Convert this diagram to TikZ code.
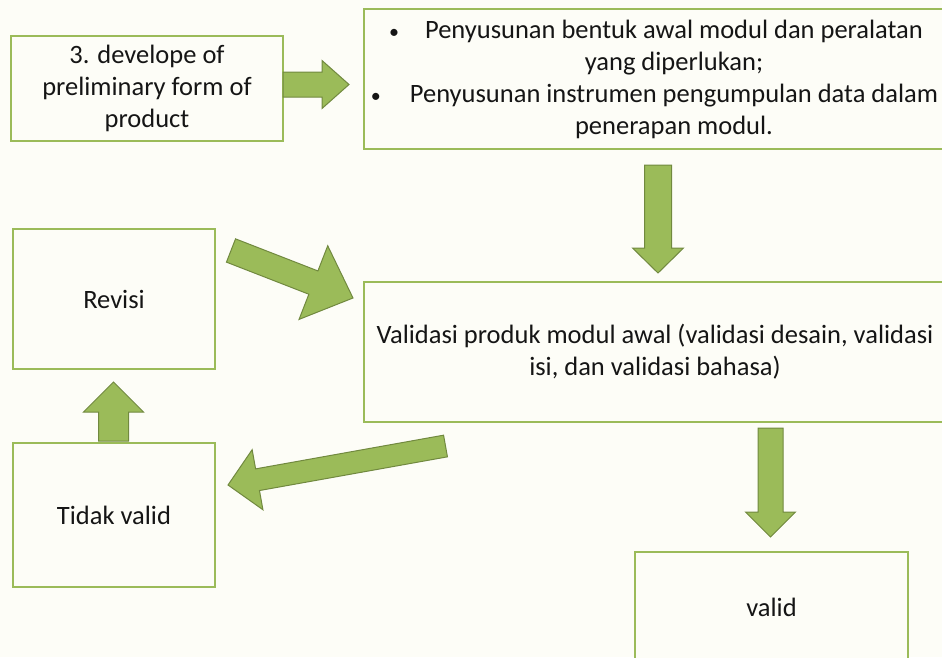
\documentclass[tikz,border=0pt]{standalone}
\usepackage{fontspec}
\setmainfont{Carlito}
\definecolor{boxgreen}{HTML}{9BBB59}
\definecolor{arrowline}{HTML}{71893F}
\definecolor{paper}{HTML}{FDFDF7}
\definecolor{ink}{HTML}{151515}

\tikzset{
  stepbox/.style={draw=boxgreen, line width=2.5pt, fill=paper, inner sep=0pt,
    text=ink, align=center, font=\fontsize{26.5}{32}\selectfont},
  arrowbody/.style={fill=boxgreen, draw=arrowline, line width=1pt, line join=miter}
}

% block arrow from #1 to #2: shaft half width #3, head half width #4, head length #5
\newcommand{\blockarrow}[5]{%
  \path (#1); \pgfgetlastxy{\tailx}{\taily}
  \path (#2); \pgfgetlastxy{\tipx}{\tipy}
  \pgfmathsetmacro\arrang{atan2(\tipy-\taily,\tipx-\tailx)}
  \pgfmathsetmacro\arrlen{veclen(\tipx-\tailx,\tipy-\taily)}
  \begin{scope}[shift={(#1)}, rotate=\arrang, x=1pt, y=1pt]
    \filldraw[arrowbody] (0,-#3) -- ({\arrlen-#5},-#3) -- ({\arrlen-#5},-#4)
      -- (\arrlen,0) -- ({\arrlen-#5},#4) -- ({\arrlen-#5},#3) -- (0,#3) -- cycle;
  \end{scope}}
\newcommand{\dotitem}[1]{\llap{{\fontsize{20}{20}\selectfont\textbullet}\hspace{#1}}}

\begin{document}
\begin{tikzpicture}[x=1pt, y=-1pt]
  \useasboundingbox (0,0) rectangle (942,657);
  \clip (0,0) rectangle (942,657);
  \fill[paper] (0,0) rectangle (942,657);

  % boxes
  \node[stepbox, minimum width=272, minimum height=105] (dev) at (147,88.5)
    {3. develope of\\ preliminary form of\\ product};
  \node[stepbox, minimum width=620, minimum height=140] (prep) at (674,79)
    {\dotitem{26pt}Penyusunan bentuk awal modul dan peralatan\\
     yang diperlukan;\\
     \dotitem{29pt}Penyusunan instrumen pengumpulan data dalam\\
     penerapan modul.};
  \node[stepbox, minimum width=202, minimum height=140] (revisi) at (114,299) {Revisi};
  \node[stepbox, minimum width=582, minimum height=140] (validasi) at (655,352)
    {Validasi produk modul awal (validasi desain, validasi\\ isi, dan validasi bahasa)};
  \node[stepbox, minimum width=202, minimum height=144] (tidak) at (114,515) {Tidak valid};
  \node[stepbox, minimum width=273, minimum height=110] (valid) at (771.5,607) {valid};

  % arrow ends
  \coordinate (a1s) at (283,84.5);   \coordinate (a1e) at (349,84.5);
  \coordinate (a2s) at (658,165);    \coordinate (a2e) at (658,273);
  \coordinate (a3s) at (231,250.5);  \coordinate (a3e) at (353,298);
  \coordinate (a4s) at (445.5,446);  \coordinate (a4e) at (228,485);
  \coordinate (a5s) at (113.5,441);  \coordinate (a5e) at (113.5,382);
  \coordinate (a6s) at (770.5,428);  \coordinate (a6e) at (770.5,537);

  \blockarrow{a1s}{a1e}{12.5}{24}{27}
  \blockarrow{a2s}{a2e}{13.5}{25.5}{25}
  \blockarrow{a3s}{a3e}{12.5}{39.5}{42.5}
  \blockarrow{a4s}{a4e}{11}{30.5}{30}
  \blockarrow{a5s}{a5e}{15}{30}{30}
  \blockarrow{a6s}{a6e}{12.5}{25}{25}
\end{tikzpicture}
\end{document}
